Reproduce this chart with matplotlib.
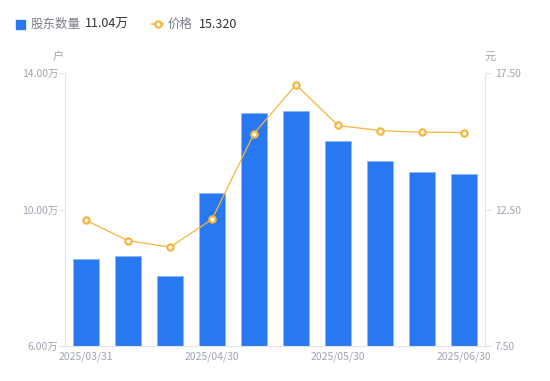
import matplotlib
matplotlib.use('Agg')
from matplotlib import pyplot
from matplotlib.lines import Line2D
from matplotlib.patches import Rectangle
import numpy as np

pyplot.rcParams['font.family'] = ['Noto Sans CJK SC', 'DejaVu Sans']

# data
dates = ['2025/03/31', '2025/04/10', '2025/04/20', '2025/04/30', '2025/05/10',
	'2025/05/20', '2025/05/30', '2025/06/10', '2025/06/20', '2025/06/30']
holders = [8.54, 8.64, 8.05, 10.49, 12.82, 12.89, 12.00, 11.41, 11.10, 11.04]  # 万户
price = [12.10, 11.36, 11.12, 12.14, 15.28, 17.07, 15.58, 15.39, 15.33, 15.32]  # 元
shown_labels = [0, 3, 6, 9]
left_ticks = [6.0, 10.0, 14.0]
right_ticks = [7.5, 12.5, 17.5]

blue = '#2878f2'
orange = '#f7b53f'
grey_txt = '#a0a4b4'
axis_col = '#e3e4e8'

fig = pyplot.figure(figsize=(5.5, 3.81), dpi=100)
ax = fig.add_axes([65/550., 35/381., 420/550., 273/381.])
ax2 = ax.twinx()

x = np.arange(len(dates))
ax.bar(x, [h - 6.0 for h in holders], bottom=6.0, width=0.6, color=blue,
	edgecolor='#8fb6f7', linewidth=0.6, zorder=2)
ax.set_xlim(-0.5, len(dates) - 0.5)
ax.set_ylim(6.0, 14.0)
ax.set_yticks(left_ticks)
ax.set_yticklabels(['{:.2f}万'.format(v) for v in left_ticks])

ax2.plot(x, price, color=orange, linewidth=0.9, marker='o', markersize=4.5,
	markerfacecolor='white', markeredgecolor=orange, markeredgewidth=1.6, zorder=3)
ax2.set_ylim(7.5, 17.5)
ax2.set_yticks(right_ticks)
ax2.set_yticklabels(['{:.2f}'.format(v) for v in right_ticks])

ax.set_xticks([x[i] for i in shown_labels])
ax.set_xticklabels([dates[i] for i in shown_labels])

for a in (ax, ax2):
	for s in a.spines.values():
		s.set_visible(False)
	a.tick_params(colors=axis_col, labelcolor=grey_txt, labelsize=7.5, length=4, width=0.8)
ax.spines['left'].set_visible(True)
ax.spines['left'].set_color(axis_col)
ax.spines['bottom'].set_visible(True)
ax.spines['bottom'].set_color(axis_col)
ax2.spines['right'].set_visible(True)
ax2.spines['right'].set_color(axis_col)
ax.tick_params(axis='x', length=0, pad=4)
ax.tick_params(axis='y', pad=1)
ax2.tick_params(axis='y', pad=3)
ax.set_zorder(ax2.get_zorder() - 1)
ax.patch.set_visible(False)

# unit labels
fig.text(58/550., 1 - 57/381., '户', color=grey_txt, fontsize=8, ha='center', va='center')
fig.text(490/550., 1 - 57/381., '元', color=grey_txt, fontsize=8, ha='center', va='center')

# legend drawn by hand like the reference
ly = 1 - 24/381.
fig.patches.append(Rectangle((16/550., ly - 4.5/381.), 9/550., 9/381., color=blue,
	transform=fig.transFigure, figure=fig))
fig.text(31/550., ly, '股东数量', color='#7a7e8c', fontsize=9, va='center')
fig.text(85/550., ly, '{:.2f}万'.format(holders[-1]), color='#333333', fontsize=9, va='center')
fig.lines.append(Line2D([152/550., 163/550.], [ly, ly], color=orange, linewidth=1.2,
	transform=fig.transFigure))
fig.lines.append(Line2D([157.5/550.], [ly], color=orange, marker='o', markersize=4.5,
	markerfacecolor='white', markeredgecolor=orange, markeredgewidth=1.6,
	transform=fig.transFigure))
fig.text(168/550., ly, '价格', color='#7a7e8c', fontsize=9, va='center')
fig.text(199/550., ly, '{:.3f}'.format(price[-1]), color='#333333', fontsize=9, va='center')

pyplot.savefig('out.png', dpi=100)
pyplot.close()
